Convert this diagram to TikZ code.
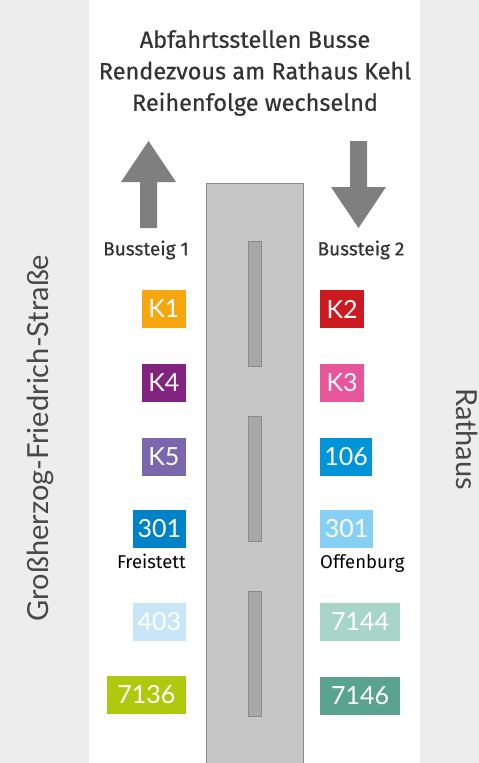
\documentclass[tikz,border=0pt]{standalone}
\usepackage{fontspec}
\setmainfont{Lato}
\newfontfamily\headfont[FakeBold=0.5]{Fira Sans}
\newfontfamily\labelfont{Fira Sans}
\usepackage{xcolor}
\usetikzlibrary{positioning}

\definecolor{sidegray}{HTML}{EDEDED}
\definecolor{roadgray}{HTML}{C6C6C6}
\definecolor{islegray}{HTML}{A8A8A8}
\definecolor{edgegray}{HTML}{8A8A8A}
\definecolor{arrowgray}{HTML}{7F7F7F}
\definecolor{textgray}{HTML}{333333}
\definecolor{cKone}{HTML}{F6A70F}
\definecolor{cKtwo}{HTML}{CC1A20}
\definecolor{cKthree}{HTML}{E8559A}
\definecolor{cKfour}{HTML}{82237F}
\definecolor{cKfive}{HTML}{7B67AE}
\definecolor{cOneOsix}{HTML}{0095DB}
\definecolor{cThreeOoneL}{HTML}{0082C9}
\definecolor{cThreeOoneR}{HTML}{86D0F5}
\definecolor{cFourOthree}{HTML}{C9E6F8}
\definecolor{cSevenOneThreeSix}{HTML}{AEC90E}
\definecolor{cSevenOneFourFour}{HTML}{A7D5C8}
\definecolor{cSevenOneFourSix}{HTML}{5BA391}

\begin{document}
\begin{tikzpicture}[
  x=1pt, y=-1pt,
  title/.style={font=\headfont\fontsize{23.5}{31.5}\selectfont, text=textgray, align=center},
  platform/.style={font=\headfont\fontsize{19}{21}\selectfont, text=textgray},
  linebox/.style={minimum height=38pt, inner sep=0pt, text=white,
    font=\fontsize{25}{25}\selectfont},
  lbox/.style={linebox, anchor=east},
  rbox/.style={linebox, anchor=west},
  dest/.style={font=\labelfont\fontsize{18.5}{20}\selectfont, text=black, inner sep=0pt},
  street/.style={font=\fontsize{29}{31}\selectfont, text=black!72},
  isle/.style={fill=islegray, draw=edgegray, line width=0.8pt},
]
  \useasboundingbox (0,0) rectangle (479,763);

  % Background bands
  \fill[sidegray] (0,0) rectangle (89,763);
  \fill[sidegray] (420,0) rectangle (479,763);

  % Road with islands
  \draw[fill=roadgray, draw=edgegray, line width=0.8pt] (206,763) -- (206,183) -- (303,183) -- (303,763);
  \draw[isle] (248,241) rectangle (261,366);
  \draw[isle] (248,416) rectangle (261,541);
  \draw[isle] (248,591) rectangle (261,716);

  % Title
  \node[title] (head) at (255,73) {Abfahrtsstellen Busse\\Rendezvous am Rathaus Kehl\\Reihenfolge wechselnd};

  % Direction arrows
  \fill[arrowgray] (140,228) -- (140,182) -- (121,182) -- (148.5,141) -- (176,182) -- (157,182) -- (157,228) -- cycle;
  \fill[arrowgray] (350,141) -- (350,187) -- (331,187) -- (358.5,228) -- (386,187) -- (367,187) -- (367,141) -- cycle;

  % Platforms
  \node[platform] (steig1) at (146,250) {Bussteig 1};
  \node[platform] (steig2) at (361,250) {Bussteig 2};

  % Bus lines, Bussteig 1
  \node[lbox, fill=cKone, minimum width=44pt] (k1) at (186,309) {K1};
  \node[lbox, fill=cKfour, minimum width=44pt] (k4) at (186,383) {K4};
  \node[lbox, fill=cKfive, minimum width=44pt] (k5) at (186,457) {K5};
  \node[lbox, fill=cThreeOoneL, minimum width=53pt] (l301) at (186,529) {301};
  \node[lbox, fill=cFourOthree, minimum width=53pt] (l403) at (186,622) {403};
  \node[lbox, fill=cSevenOneThreeSix, minimum width=79pt] (l7136) at (186,695) {7136};

  % Bus lines, Bussteig 2
  \node[rbox, fill=cKtwo, minimum width=44pt] (k2) at (320,309) {K2};
  \node[rbox, fill=cKthree, minimum width=44pt] (k3) at (320,383) {K3};
  \node[rbox, fill=cOneOsix, minimum width=52pt] (l106) at (320,457) {106};
  \node[rbox, fill=cThreeOoneR, minimum width=53pt] (r301) at (320,529) {301};
  \node[rbox, fill=cSevenOneFourFour, minimum width=80pt] (l7144) at (320,622) {7144};
  \node[rbox, fill=cSevenOneFourSix, minimum width=80pt] (l7146) at (320,696) {7146};

  % Destinations
  \node[dest, below=6pt of l301.south east, anchor=north east] (freistett) {Freistett};
  \node[dest, below=6pt of r301.south west, anchor=north west] (offenburg) {Offenburg};

  % Streets
  \node[street, rotate=90] (gfs) at (40,438) {Großherzog-Friedrich-Straße};
  \node[street, rotate=-90] (rathaus) at (467,439) {Rathaus};
\end{tikzpicture}
\end{document}
